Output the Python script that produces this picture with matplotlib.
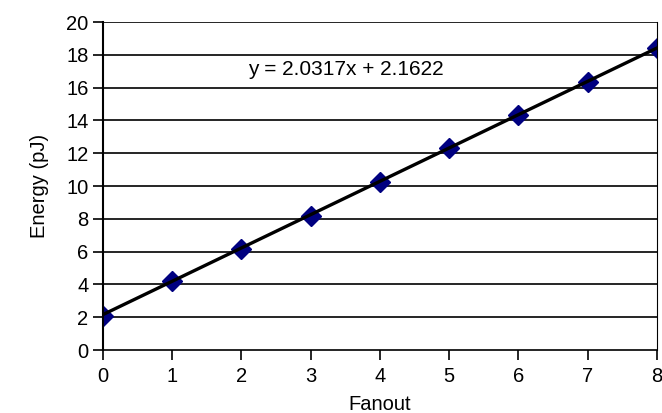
import numpy as np
import matplotlib
matplotlib.use("Agg")
import matplotlib.pyplot as plt

plt.rcParams['font.family'] = ['Liberation Sans', 'DejaVu Sans']

fanout = [0, 1, 2, 3, 4, 5, 6, 7, 8]
energy = [2.07, 4.2, 6.15, 8.17, 10.26, 12.3, 14.33, 16.36, 18.4]
slope = 2.0317
intercept = 2.1622
eq_label = "y = 2.0317x + 2.1622"

fig = plt.figure(figsize=(6.62, 4.13), dpi=100)
ax = fig.add_axes([0.1556, 0.1525, 0.8368, 0.7942])

for yv in range(2, 21, 2):
    ax.axhline(yv, color="#000000", linewidth=1.2, zorder=1)

xs = np.array([fanout[0], fanout[-1]])
ax.plot(xs, slope * xs + intercept, color="#000000", linewidth=2.4, zorder=3)
ax.plot(fanout, energy, linewidth=0, marker="D", markersize=10.5,
        color="#000080", zorder=2)

ax.text(3.51, 17.1, eq_label, fontsize=15, ha="center", va="center")

ax.set_xlim(0, 8)
ax.set_ylim(0, 20)
ax.set_xticks(range(0, 9))
ax.set_yticks(range(0, 21, 2))
ax.tick_params(labelsize=14.5, length=7, width=1.2, color="#000000")
ax.tick_params(axis="x", pad=5)
ax.spines["top"].set_linewidth(0)
ax.spines["right"].set_linewidth(0.8)
ax.spines["left"].set_linewidth(1.5)
ax.spines["bottom"].set_linewidth(1.2)
for m in ax.get_xaxis().get_majorticklines() + ax.get_yaxis().get_majorticklines():
    m.set_clip_on(False)

ax.set_xlabel("Fanout", fontsize=14.5, labelpad=7)
ax.set_ylabel("Energy (pJ)", fontsize=14.5, labelpad=12)

fig.savefig("out.png", dpi=100)
